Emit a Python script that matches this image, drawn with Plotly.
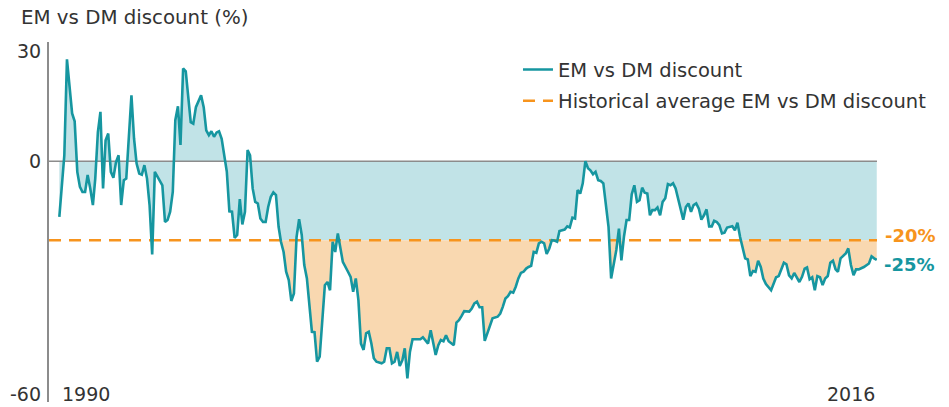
import numpy as np
import pandas as pd
import plotly.graph_objects as go

# Monthly EM vs DM discount (%), Jan 1990 - Jun 2016
dates = [
    "1990-01", "1990-03", "1990-04", "1990-06", "1990-07", "1990-08", "1990-09", "1990-10", "1990-11", "1990-12",
    "1991-01", "1991-02", "1991-03", "1991-04", "1991-05", "1991-06", "1991-07", "1991-08", "1991-09", "1991-10", "1991-11", "1991-12",
    "1992-01", "1992-02", "1992-03", "1992-05", "1992-06", "1992-07", "1992-08", "1992-09", "1992-10", "1992-11", "1992-12",
    "1993-01", "1993-02", "1993-04", "1993-05", "1993-06", "1993-07", "1993-08", "1993-09", "1993-10", "1993-11", "1993-12",
    "1994-01", "1994-02", "1994-04", "1994-05", "1994-06", "1994-08", "1994-09", "1994-10", "1994-11", "1994-12",
    "1995-01", "1995-02", "1995-03", "1995-04", "1995-05", "1995-06", "1995-07", "1995-08", "1995-09", "1995-10", "1995-11", "1995-12",
    "1996-01", "1996-02", "1996-03", "1996-04", "1996-05", "1996-06", "1996-07", "1996-08", "1996-09", "1996-10", "1996-11", "1996-12",
    "1997-01", "1997-02", "1997-03", "1997-04", "1997-05", "1997-06", "1997-07", "1997-08", "1997-09", "1997-10", "1997-11", "1997-12",
    "1998-01", "1998-02", "1998-03", "1998-04", "1998-05", "1998-06", "1998-07", "1998-08", "1998-09", "1998-10", "1998-11", "1998-12",
    "1999-01", "1999-03", "1999-05", "1999-06", "1999-07", "1999-08", "1999-09", "1999-10", "1999-11", "1999-12",
    "2000-01", "2000-02", "2000-03", "2000-04", "2000-06", "2000-07", "2000-08", "2000-09", "2000-10", "2000-11", "2000-12",
    "2001-01", "2001-02", "2001-03", "2001-04", "2001-05", "2001-06", "2001-08", "2001-09", "2001-10", "2001-11", "2001-12",
    "2002-01", "2002-02", "2002-03", "2002-04", "2002-05", "2002-06", "2002-07", "2002-08", "2002-09", "2002-10", "2002-11", "2002-12",
    "2003-01", "2003-02", "2003-04", "2003-05", "2003-06", "2003-07", "2003-08", "2003-09", "2003-10", "2003-11", "2003-12",
    "2004-01", "2004-03", "2004-04", "2004-05", "2004-06", "2004-07", "2004-08", "2004-09", "2004-10", "2004-11", "2004-12",
    "2005-01", "2005-02", "2005-03", "2005-04", "2005-05", "2005-06", "2005-07", "2005-08", "2005-09", "2005-10", "2005-11", "2005-12",
    "2006-01", "2006-02", "2006-03", "2006-04", "2006-05", "2006-06", "2006-07", "2006-08", "2006-09", "2006-10", "2006-11", "2006-12",
    "2007-01", "2007-02", "2007-03", "2007-04", "2007-05", "2007-06", "2007-07", "2007-08", "2007-09", "2007-10", "2007-11",
    "2008-01", "2008-02", "2008-03", "2008-04", "2008-05", "2008-06", "2008-07", "2008-08", "2008-09", "2008-10", "2008-11", "2008-12",
    "2009-01", "2009-02", "2009-03", "2009-04", "2009-05", "2009-06", "2009-07", "2009-08", "2009-09", "2009-10", "2009-11", "2009-12",
    "2010-01", "2010-03", "2010-04", "2010-05", "2010-06", "2010-07", "2010-08", "2010-09", "2010-10", "2010-11", "2010-12",
    "2011-01", "2011-02", "2011-03", "2011-04", "2011-05", "2011-06", "2011-07", "2011-08", "2011-10", "2011-11", "2011-12",
    "2012-01", "2012-02", "2012-03", "2012-04", "2012-05", "2012-06", "2012-07", "2012-08", "2012-09", "2012-10", "2012-11",
    "2013-01", "2013-02", "2013-03", "2013-04", "2013-05", "2013-06", "2013-07", "2013-08", "2013-09", "2013-10", "2013-12",
    "2014-01", "2014-02", "2014-03", "2014-04", "2014-05", "2014-06", "2014-07", "2014-08", "2014-09", "2014-10", "2014-11", "2014-12",
    "2015-01", "2015-02", "2015-03", "2015-04", "2015-06", "2015-07", "2015-08", "2015-09", "2015-10", "2015-11", "2015-12",
    "2016-01", "2016-03", "2016-04", "2016-05", "2016-06",
]

discount = [
    -14.1, 1.5, 25.8, 12.1, 10.1, -2.7, -6.5, -7.8, -7.8, -3.5,
    -6.9, -11.1, -4.4, 7.4, 12.5, -6.9, 5.3, 7.0, -2.7, -4.2, -0.2, 1.5,
    -11.1, -4.8, -4.4, 16.7, 5.7, -0.6, -3.1, -3.4, -1.0, -4.4, -11.1,
    -23.6, -2.7, -5.1, -6.1, -15.4, -14.9, -12.8, -7.8, 10.4, 13.9, 4.1,
    23.5, 22.8, 9.9, 9.5, 13.7, 16.7, 13.7, 7.8, 6.6, 7.6,
    6.2, 7.3, 7.6, 5.7, 1.5, -2.7, -12.7, -12.8, -19.4, -18.7, -9.6, -16.0,
    -12.8, 2.8, 1.5, -6.9, -10.3, -10.7, -14.5, -15.4, -15.4, -11.6, -9.0, -7.9,
    -8.6, -16.6, -20.4, -23.0, -28.0, -30.1, -35.4, -33.5, -19.2, -14.7, -18.7, -26.3,
    -29.7, -36.5, -43.2, -43.3, -50.8, -49.5, -40.0, -31.4, -30.6, -32.7, -20.4, -23.0,
    -18.3, -25.5, -28.0, -29.3, -33.1, -29.7, -35.2, -46.2, -47.8, -43.6,
    -43.2, -46.2, -49.9, -50.8, -51.2, -50.8, -47.4, -47.4, -51.2, -50.8, -48.3,
    -51.9, -50.4, -47.4, -55.0, -48.3, -45.1, -45.1, -45.1, -44.6, -45.3, -46.2,
    -42.8, -46.2, -49.1, -46.6, -45.3, -45.6, -44.1, -45.6, -46.0, -46.6, -40.9, -40.3,
    -39.2, -38.0, -38.1, -37.3, -36.0, -35.6, -37.0, -37.0, -45.5, -43.6, -41.9,
    -39.8, -39.4, -38.6, -36.9, -34.8, -34.2, -33.1, -33.3, -31.8, -29.7, -28.3,
    -28.0, -27.2, -26.8, -26.5, -23.0, -23.2, -20.8, -20.4, -20.8, -23.5, -22.1, -20.0,
    -20.1, -20.4, -17.7, -17.5, -17.3, -16.5, -16.8, -14.3, -14.5, -7.3, -8.2, -5.6,
    0.0, -1.8, -2.3, -3.3, -2.7, -4.8, -5.0, -5.6, -10.7, -16.6, -29.7,
    -22.5, -17.1, -25.1, -19.0, -14.9, -14.9, -8.4, -6.1, -10.3, -9.9, -6.7, -8.0,
    -8.2, -13.7, -12.4, -12.4, -11.7, -13.7, -10.3, -9.4, -5.8, -6.1, -5.6, -6.9,
    -9.4, -14.8, -11.6, -10.7, -12.8, -11.1, -10.7, -12.0, -14.8, -13.7, -12.2,
    -16.5, -16.5, -15.1, -15.4, -16.2, -18.3, -18.1, -16.8, -16.5, -17.5, -15.6,
    -19.2, -21.7, -24.6, -24.9, -29.1, -27.8, -28.0, -25.2, -26.8, -29.7, -31.1,
    -32.7, -30.8, -29.4, -29.1, -27.4, -25.7, -26.1, -28.9, -29.7, -28.3, -30.6,
    -29.3, -27.2, -26.9, -29.9, -29.4, -32.7, -29.1, -29.4, -31.4, -29.7, -29.1, -25.7,
    -25.2, -27.4, -28.0, -24.6, -23.4, -22.1, -26.3, -28.9, -27.4, -27.4, -27.2,
    -26.8, -25.9, -24.1, -24.6, -25.0,
]

hist_avg = -20.0
y_tick_values = [30, 0, -60]
x_tick_labels = ["1990", "2016"]
x_range = ["1989-09-01", "2016-06-04"]

TEAL = "#1696a0"
TEAL_FILL = "#c1e3e7"
ORANGE = "#f7941d"
ORANGE_FILL = "#f9d8b0"
GREY = "#8c8c8c"
TEXT = "#333333"
FONT = "DejaVu Sans"

t = pd.to_datetime(dates)
tn = t.astype("int64").to_numpy()
v = np.asarray(discount, dtype=float)

# add the points where the series crosses the historical average so the two fills meet cleanly
xs, ys = [tn[0]], [v[0]]
for i in range(1, len(v)):
    a, b = v[i - 1], v[i]
    if (a - hist_avg) * (b - hist_avg) < 0:
        f = (hist_avg - a) / (b - a)
        xs.append(int(tn[i - 1] + f * (tn[i] - tn[i - 1])))
        ys.append(hist_avg)
    xs.append(tn[i])
    ys.append(b)
xs = pd.to_datetime(np.asarray(xs, dtype="int64"))
ys = np.asarray(ys)
upper = np.maximum(ys, hist_avg)
lower = np.minimum(ys, hist_avg)

fig = go.Figure()
hidden = dict(mode="lines", line=dict(width=0), showlegend=False, hoverinfo="skip")

# blue band: between zero and the series, floored at the average
fig.add_trace(go.Scatter(x=xs, y=np.zeros(len(xs)), **hidden))
fig.add_trace(go.Scatter(x=xs, y=upper, fill="tonexty", fillcolor=TEAL_FILL, **hidden))
# orange band: below the historical average
fig.add_trace(go.Scatter(x=xs, y=np.full(len(xs), hist_avg), **hidden))
fig.add_trace(go.Scatter(x=xs, y=lower, fill="tonexty", fillcolor=ORANGE_FILL, **hidden))

# zero line
fig.add_trace(go.Scatter(x=x_range, y=[0, 0], mode="lines", line=dict(color=GREY, width=1.5),
                         showlegend=False, hoverinfo="skip"))
# historical average
fig.add_trace(go.Scatter(x=x_range, y=[hist_avg, hist_avg], mode="lines",
                         line=dict(color=ORANGE, width=2.5, dash="12px,8px"),
                         name="Historical average EM vs DM discount",
                         legendgroup="avg", legendrank=2))
# the series itself
fig.add_trace(go.Scatter(x=t, y=v, mode="lines", line=dict(color=TEAL, width=2.6),
                         name="EM vs DM discount", legendgroup="em", legendrank=1))

annotations = []
# y tick labels
y_shift = {30: -8, 0: 0, -60: 4}
for val in y_tick_values:
    annotations.append(dict(x=-0.0075, xref="paper", y=val, yref="y", yshift=y_shift[val],
                            text=str(val), showarrow=False, xanchor="right", yanchor="middle",
                            font=dict(size=19, color=TEXT, family=FONT)))
# x end labels
annotations.append(dict(x=dates[0], xref="x", y=-60, yref="y", yshift=4, xshift=1,
                        text=x_tick_labels[0], showarrow=False, xanchor="left", yanchor="middle",
                        font=dict(size=19, color=TEXT, family=FONT)))
annotations.append(dict(x=dates[-1], xref="x", y=-60, yref="y", yshift=4,
                        text=x_tick_labels[1], showarrow=False, xanchor="right", yanchor="middle",
                        font=dict(size=19, color=TEXT, family=FONT)))
# axis title
annotations.append(dict(x=-0.0362, xref="paper", y=1.0667, yref="paper",
                        text="EM vs DM discount (%)", showarrow=False, xanchor="left", yanchor="middle",
                        font=dict(size=19.8, color=TEXT, family=FONT)))
# end-of-series value labels
annotations.append(dict(x=1.0072, xref="paper", y=hist_avg, yref="y", yshift=5,
                        text=f"{hist_avg:.0f}%", showarrow=False, xanchor="left", yanchor="middle",
                        font=dict(size=18, color=ORANGE, family=FONT, weight="bold")))
annotations.append(dict(x=1.0060, xref="paper", y=discount[-1], yref="y", yshift=-5,
                        text=f"{discount[-1]:.0f}%", showarrow=False, xanchor="left", yanchor="middle",
                        font=dict(size=18, color=TEAL, family=FONT, weight="bold")))

fig.update_layout(
    width=949, height=407,
    margin=dict(l=49, r=72, t=42, b=5),
    paper_bgcolor="white", plot_bgcolor="white",
    showlegend=True,
    legend=dict(x=0.5664, y=0.977, xanchor="left", yanchor="top",
                bgcolor="rgba(0,0,0,0)", tracegroupgap=3,
                font=dict(size=19.5, color=TEXT, family=FONT)),
    xaxis=dict(range=x_range, showgrid=False, zeroline=False, showticklabels=False,
               ticks="", showline=False),
    yaxis=dict(range=[-61, 30.2], showgrid=False, zeroline=False, showticklabels=False,
               ticks="", showline=True, linecolor=GREY, linewidth=2),
    annotations=annotations,
    hovermode=False,
)

fig.write_html("out.html")
